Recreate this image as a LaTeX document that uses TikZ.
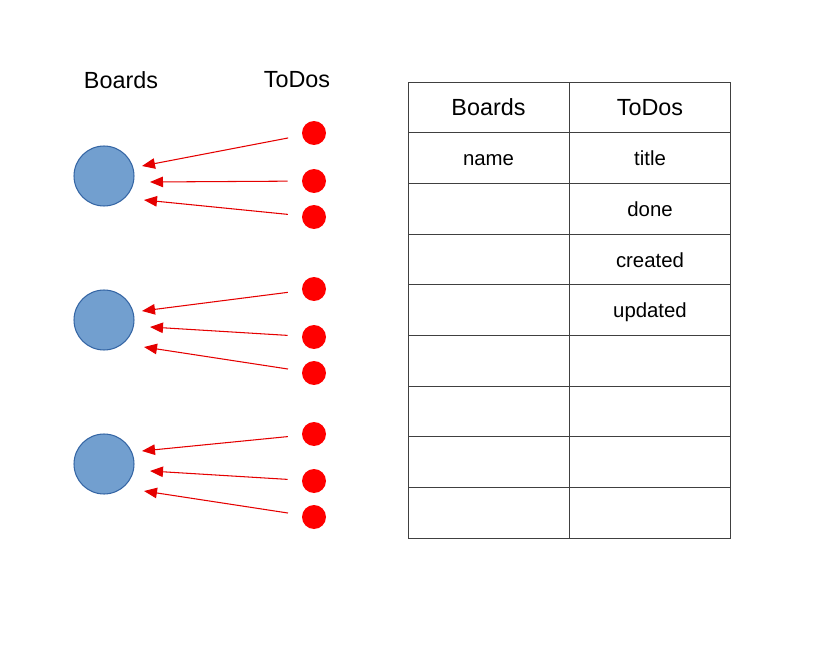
\documentclass[tikz,border=0pt]{standalone}
\usepackage{fontspec}
\setmainfont{Liberation Sans}
\usepackage{tikz}
\usetikzlibrary{arrows.meta,positioning}
\definecolor{brdblue}{HTML}{729FCF}
\definecolor{brdedge}{HTML}{3465A4}
\definecolor{todored}{HTML}{FF0000}
\definecolor{tblgray}{HTML}{404040}

\begin{document}
\begin{tikzpicture}[
  x=0.02cm, y=-0.02cm,
  >={Triangle[length=0.26cm, width=0.21cm]},
  board/.style={circle, fill=brdblue, draw=brdedge, line width=0.6pt,
    minimum size=1.2cm, inner sep=0pt},
  todo/.style={circle, fill=todored, minimum size=0.48cm, inner sep=0pt},
  link/.style={->, todored!90!black, line width=0.6pt, shorten <=0.28cm},
  cell/.style={draw=tblgray, line width=0.5pt, minimum width=3.22cm,
    minimum height=1.0133cm, inner sep=0pt, text height=2ex, text depth=0.3ex,
    font=\fontsize{11.6}{14}\selectfont},
  head/.style={cell, font=\fontsize{13.3}{16}\selectfont},
  title/.style={font=\fontsize{13.3}{16}\selectfont}
]

%% ── CANVAS ──────────────────────────────────────────────────────
\useasboundingbox (0,0) rectangle (815,669);

%% ── LABELS ──────────────────────────────────────────────────────
\node[title] (lblboards) at (121,80) {Boards};
\node[title] (lbltodos)  at (297,80) {ToDos};

%% ── BOARDS ──────────────────────────────────────────────────────
\foreach \i/\y in {1/176, 2/320, 3/464}{
  \node[board] (b\i) at (104,\y) {};
}

%% ── TODOS + LINKS ───────────────────────────────────────────────
%% dots, then the three arrow tips beside each board
\foreach \i/\ya/\yb/\yc/\ea/\eb/\ec in
  {1/133/181/217/-10/6/24, 2/289/337/373/-9/7/27, 3/434/481/517/-13/7/27}{
  \node[todo] (t\i-a) at (314,\ya) {};
  \node[todo] (t\i-b) at (314,\yb) {};
  \node[todo] (t\i-c) at (314,\yc) {};
  \coordinate (e\i-a) at ([shift={(38,\ea)}]b\i.center);
  \coordinate (e\i-b) at ([shift={(46,\eb)}]b\i.center);
  \coordinate (e\i-c) at ([shift={(40,\ec)}]b\i.center);
  \foreach \k in {a,b,c}{
    \draw[link] (t\i-\k) -- (e\i-\k);
  }
}

%% ── TABLE ───────────────────────────────────────────────────────
\node[head] (h-1) at (488.5,107.3) {Boards};
\node[head] (h-2) at (650,107.3)   {ToDos};

\foreach \r/\lb/\lt [evaluate=\r as \y using 82+50.67*(\r+0.5)]
  in {1/name/title, 2//done, 3//created, 4//updated, 5//, 6//, 7//, 8//}{
  \node[cell] (c\r-1) at (488.5,\y) {\lb};
  \node[cell] (c\r-2) at (650,\y)   {\lt};
}

\end{tikzpicture}
\end{document}
